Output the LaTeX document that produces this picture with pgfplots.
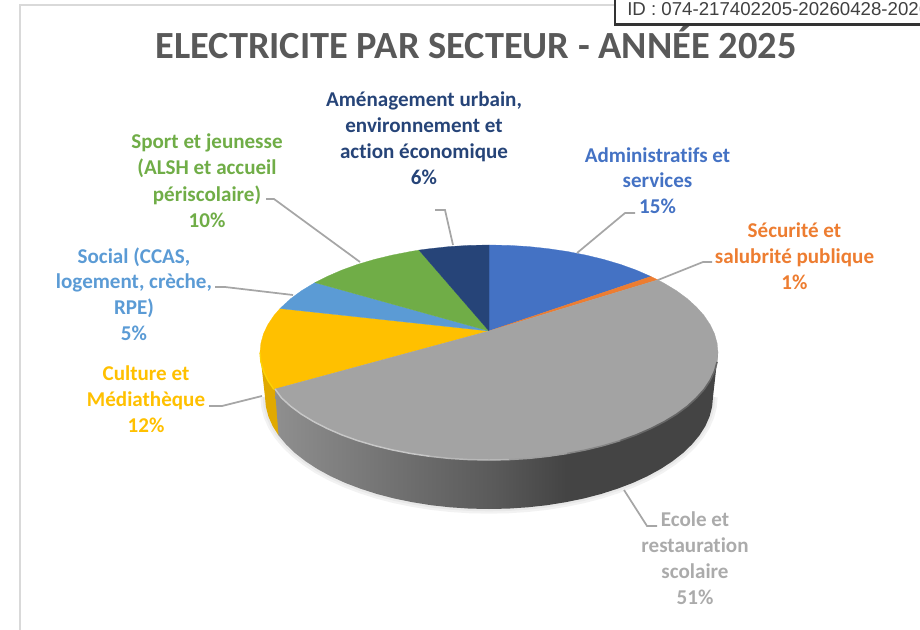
\documentclass[border=0pt]{standalone}
\usepackage{pgfplots}
\usepackage{pgfplotstable}
\pgfplotsset{compat=1.18}
\usepackage{fontspec}
\setmainfont{Carlito}[Ligatures=CommonOff]
\newfontfamily\idfont{Liberation Sans}
\definecolor{cBlue}{HTML}{4472C4}
\definecolor{cOrange}{HTML}{ED7D31}
\definecolor{cGray}{HTML}{A3A3A3}
\definecolor{cTGray}{HTML}{ABABAB}
\definecolor{cYellow}{HTML}{FFC000}
\definecolor{cSky}{HTML}{5B9BD5}
\definecolor{cGreen}{HTML}{70AD47}
\definecolor{cNavy}{HTML}{264478}
\definecolor{cLead}{HTML}{A6A6A6}
\definecolor{cTitle}{HTML}{595959}
\pgfdeclarehorizontalshading{wall}{100bp}{rgb(0bp)=(.56,.56,.56); rgb(25bp)=(.56,.56,.56); rgb(39bp)=(.44,.44,.44); rgb(50bp)=(.35,.35,.35); rgb(58bp)=(.265,.265,.265); rgb(100bp)=(.265,.265,.265)}
% lower rim of the pie (x, y in reference pixels)
\pgfplotstableread{
x y
713 397
712.1 406.8
709.6 416.4
705.4 426
699.5 435.3
692 444.3
683 453
672.5 461.2
660.6 469
647.4 476.2
633 482.8
617.5 488.7
601 494
583.7 498.5
565.6 502.2
547 505.2
527.9 507.3
508.5 508.6
489 509
469.5 508.6
450.1 507.3
431 505.2
412.4 502.2
394.3 498.5
377 494
360.5 488.7
345 482.8
330.6 476.2
317.4 469
305.5 461.2
295 453
286 444.3
278.5 435.3
272.6 426
268.4 416.4
265.9 406.8
265 397
}\bottomrim
\newcommand{\lbl}[4]{\node[anchor=base,text=#1,inner sep=0pt,font=\fontsize{15.8pt}{18pt}\selectfont\bfseries] at (axis cs:#2,#3+0.8) {#4};}
\begin{document}
\begin{tikzpicture}
\path[use as bounding box,clip] (0,0) rectangle (690pt,472.5pt);
\begin{axis}[
  at={(0,0)},anchor=south west,
  width=690pt,height=472.5pt,scale only axis,
  xmin=0,xmax=920,ymin=0,ymax=630,y dir=reverse,
  axis lines=none,clip=false,
]
% chart frame
\addplot[color=black!15,line width=1.5pt] coordinates {(20,630) (20,5) (920,5)};
% soft shadow below the pie
\addplot[color=black!5,line width=7pt,line join=round] table {\bottomrim};
\addplot[color=black!9,line width=3.5pt,line join=round] table {\bottomrim};
% side walls
\addplot[fill=cYellow!88!black,draw=none] coordinates {(260,352.5) (265,397) (265.9,406.8) (268.4,416.4) (272.6,426) (278.5,435.3) (290,400)} -- cycle;
\addplot[draw=none,shade,shading=wall] coordinates {(718,352.5) (713,397) (712.1,406.8) (709.6,416.4) (705.4,426) (699.5,435.3) (692,444.3) (683,453) (672.5,461.2) (660.6,469) (647.4,476.2) (633,482.8) (617.5,488.7) (601,494) (583.7,498.5) (565.6,502.2) (547,505.2) (527.9,507.3) (508.5,508.6) (489,509) (469.5,508.6) (450.1,507.3) (431,505.2) (412.4,502.2) (394.3,498.5) (377,494) (360.5,488.7) (345,482.8) (330.6,476.2) (317.4,469) (305.5,461.2) (295,453) (286,444.3) (278.5,435.3) (275,389)} -- cycle;
% top face, one polygon per sector
\addplot[fill=cBlue,draw=cBlue,line width=.2pt] coordinates {(489,331) (489,245) (509,245.4) (528.8,246.6) (548.3,248.7) (567.3,251.5) (585.8,255.1) (603.5,259.4) (620.4,264.4) (636.2,270.1) (650.9,276.5)} -- cycle;
\addplot[fill=cOrange,draw=cOrange,line width=.2pt] coordinates {(489,331) (650.9,276.5) (657.8,279.9)} -- cycle;
\addplot[fill=cYellow,draw=cYellow,line width=.2pt] coordinates {(489,331) (275,389) (273.8,389.3) (267.8,380.3) (263.5,371.2) (260.9,361.9) (260,352.5) (260.9,343.1) (263.5,333.8) (267.8,324.7) (273.8,315.7) (280,308.5)} -- cycle;
\addplot[fill=cSky,draw=cSky,line width=.2pt] coordinates {(489,331) (280,308.5) (281.5,307.1) (290.7,298.7) (301.4,290.8) (313.6,283.4) (315,282.6)} -- cycle;
\addplot[fill=cGreen,draw=cGreen,line width=.2pt] coordinates {(489,331) (315,282.6) (327.1,276.5) (341.8,270.1) (357.6,264.4) (374.5,259.4) (392.2,255.1) (410.7,251.5) (419,250.1)} -- cycle;
\addplot[fill=cNavy,draw=cNavy,line width=.2pt] coordinates {(489,331) (419,250.1) (429.7,248.7) (449.2,246.6) (469,245.4) (489,245)} -- cycle;
\addplot[fill=cGray,draw=cGray,line width=.2pt] coordinates {(489,331) (657.8,279.9) (664.4,283.4) (676.6,290.8) (687.3,298.7) (696.5,307.1) (704.2,315.7) (710.2,324.7) (714.5,333.8) (717.1,343.1) (718,352.5) (717.1,361.9) (714.5,371.2) (710.2,380.3) (704.2,389.3) (696.5,397.9) (687.3,406.3) (676.6,414.2) (664.4,421.6) (650.9,428.5) (636.2,434.9) (620.4,440.6) (603.5,445.6) (585.8,449.9) (567.3,453.5) (548.3,456.3) (528.8,458.4) (509,459.6) (489,460) (469,459.6) (449.2,458.4) (429.7,456.3) (410.7,453.5) (392.2,449.9) (374.5,445.6) (357.6,440.6) (341.8,434.9) (327.1,428.5) (313.6,421.6) (301.4,414.2) (290.7,406.3) (281.5,397.9) (275,389)} -- cycle;
% bevel of the rim
\addplot[color=black!22,line width=1.1pt,line join=round] coordinates {(275,389) (281.5,397.9) (290.7,406.3) (301.4,414.2) (313.6,421.6) (327.1,428.5) (341.8,434.9) (357.6,440.6) (374.5,445.6) (392.2,449.9) (410.7,453.5) (429.7,456.3)};
\addplot[color=black!28,line width=1.1pt,line join=round] coordinates {(429.7,456.3) (449.2,458.4) (469,459.6) (489,460) (509,459.6)};
\addplot[color=black!38,line width=1.1pt,line join=round] coordinates {(509,459.6) (528.8,458.4) (548.3,456.3) (567.3,453.5)};
\addplot[color=black!48,line width=1.1pt,line join=round] coordinates {(567.3,453.5) (585.8,449.9) (603.5,445.6) (620.4,440.6)};
\addplot[color=black!60,line width=1.2pt,line join=round] coordinates {(620.4,440.6) (636.2,434.9) (650.9,428.5) (664.4,421.6) (676.6,414.2) (687.3,406.3) (696.5,397.9) (704.2,389.3) (710.2,380.3) (714.5,371.2) (717.1,361.9)};
\addplot[color=yellow!70!orange,line width=1pt] coordinates {(273.8,389.3) (267.8,380.3) (263.5,371.2) (260.9,361.9) (260,352.5)};
% leader lines
\addplot[color=cLead,line width=1.3pt] coordinates {(577,253) (625,213) (635,213)};
\addplot[color=cLead,line width=1.3pt] coordinates {(658,280) (703,262) (712,262)};
\addplot[color=cLead,line width=1.3pt] coordinates {(624,490) (647,526) (657,526)};
\addplot[color=cLead,line width=1.3pt] coordinates {(262,396) (222,406) (209,406)};
\addplot[color=cLead,line width=1.3pt] coordinates {(293,295) (225,287) (215,287)};
\addplot[color=cLead,line width=1.3pt] coordinates {(360,262) (274,199) (266,199)};
\addplot[color=cLead,line width=1.3pt] coordinates {(453,245) (445,210) (435,210)};
% title
\node[anchor=base,text=cTitle,inner sep=0pt,font=\fontsize{28.8pt}{34pt}\selectfont\bfseries] at (axis cs:476,59) {ELECTRICITE PAR SECTEUR - ANNÉE 2025};
% data labels
\lbl{cNavy}{424}{106}{Aménagement urbain,}
\lbl{cNavy}{424}{132}{environnement et}
\lbl{cNavy}{424}{158}{action économique}
\lbl{cNavy}{424}{184}{6\%}
\lbl{cBlue}{657.5}{162}{Administratifs et}
\lbl{cBlue}{657.5}{187}{services}
\lbl{cBlue}{657.5}{213}{15\%}
\lbl{cOrange}{794.5}{237}{Sécurité et}
\lbl{cOrange}{794.5}{263}{salubrité publique}
\lbl{cOrange}{794.5}{289}{1\%}
\lbl{cGreen}{207}{148}{Sport et jeunesse}
\lbl{cGreen}{207}{174}{(ALSH et accueil}
\lbl{cGreen}{207}{201}{périscolaire)}
\lbl{cGreen}{207}{227}{10\%}
\lbl{cSky}{134}{263}{Social (CCAS,}
\lbl{cSky}{134}{288}{logement, crèche,}
\lbl{cSky}{134}{314}{RPE)}
\lbl{cSky}{134}{340}{5\%}
\lbl{cYellow}{146}{380}{Culture et}
\lbl{cYellow}{146}{406}{Médiathèque}
\lbl{cYellow}{146}{432}{12\%}
\lbl{cTGray}{695}{526}{Ecole et}
\lbl{cTGray}{695}{552}{restauration}
\lbl{cTGray}{695}{578}{scolaire}
\lbl{cTGray}{695}{604}{51\%}
% identifier box
\addplot[fill=white,draw=black!80,line width=2pt] coordinates {(615,-5) (615,24.5) (930,24.5) (930,-5)} -- cycle;
\node[anchor=base west,inner sep=0pt,text=black!75,font=\idfont\fontsize{14pt}{16pt}\selectfont] at (axis cs:627,16) {ID : 074-217402205-20260428-2026};
\end{axis}
\end{tikzpicture}
\end{document}
